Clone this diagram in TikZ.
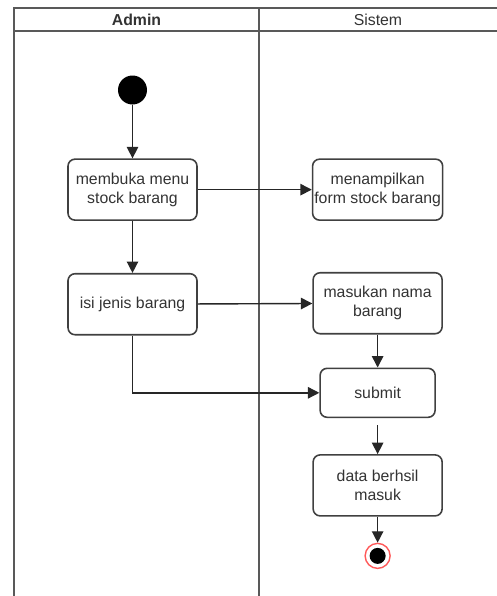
\documentclass[tikz,border=0pt]{standalone}
\usepackage{fontspec}
\setmainfont{Liberation Sans}
\usetikzlibrary{arrows.meta, positioning}

\begin{document}
\begin{tikzpicture}[
  act/.style={draw=black!75, line width=0.9pt, rounded corners=4pt, align=center,
    font=\fontsize{9}{11}\selectfont, text=black!80, minimum width=2.58cm, minimum height=1.22cm, inner sep=1pt},
  lane/.style={draw=black!65, line width=1.1pt},
  flow/.style={draw=black!85, line width=0.8pt, -{Triangle[width=6.5pt,length=6.5pt]}},
  >=Latex]
\useasboundingbox (0,0) rectangle (9.94,-11.92);
% swimlanes
\draw[lane] (9.94,-0.16) -- (0.28,-0.16) -- (0.28,-11.92);
\draw[lane] (0.28,-0.62) -- (9.94,-0.62);
\draw[lane] (5.18,-0.16) -- (5.18,-11.92);
\node[font=\fontsize{9}{11}\selectfont\bfseries, text=black!80] (admin) at (2.73,-0.39) {Admin};
\node[font=\fontsize{9}{11}\selectfont, text=black!80] (sistem) at (7.56,-0.39) {Sistem};
% actions
\node[circle, fill=black, minimum size=0.58cm, inner sep=0pt] (start) at (2.65,-1.80) {};
\node[act, below=1.07cm of start] (menu) {membuka menu\\ stock barang};
\node[act, below=1.04cm of menu] (isi) {isi jenis barang};
\node[act, right=2.28cm of menu] (form) {menampilkan\\ form stock barang};
\node[act, below=1.02cm of form] (nama) {masukan nama\\ barang};
\node[act, minimum width=2.3cm, minimum height=0.98cm, below=0.66cm of nama] (submit) {submit};
\node[act, below=0.72cm of submit] (hasil) {data berhsil\\ masuk};
\node[circle, draw=red!65, line width=0.8pt, fill=white, minimum size=0.5cm, inner sep=0pt,
  below=0.52cm of hasil] (end) {};
\node[circle, fill=black, minimum size=0.32cm, inner sep=0pt] (endin) at (end) {};
% flows
\draw[flow] (start) -- (menu);
\draw[flow] (menu) -- (isi);
\draw[flow] (menu) -- (form);
\draw[flow] (isi) -- (nama);
\draw[flow] (nama) -- (submit);
\draw[flow] (isi.south) |- (submit.west);
\draw[flow, shorten <=0.14cm] (submit) -- (hasil);
\draw[flow] (hasil) -- (end);
\end{tikzpicture}
\end{document}
